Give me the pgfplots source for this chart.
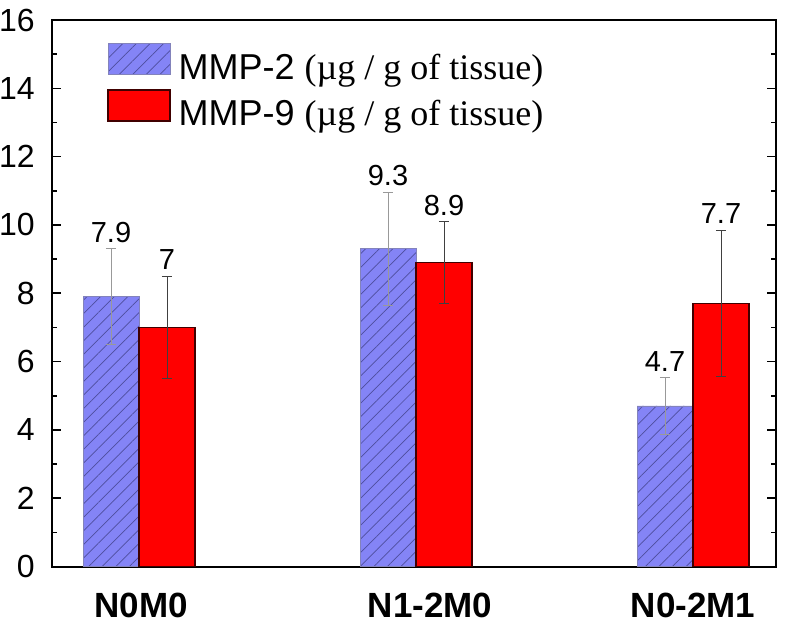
\documentclass[border=0pt]{standalone}
\usepackage{fontspec}
\setmainfont{Liberation Sans}
\newfontfamily\tnr{Liberation Serif}
\usepackage{pgfplots}
\pgfplotsset{compat=1.18}
\usetikzlibrary{patterns.meta,calc}
\definecolor{mmpblue}{HTML}{8484F6}
\definecolor{hatchblue}{HTML}{4E4E9E}
\definecolor{mmpred}{HTML}{FF0000}

\begin{document}
\begin{tikzpicture}
\begin{axis}[
  name=ax,
  scale only axis,
  width=362pt, height=273.25pt,
  xmin=0, xmax=724,
  ymin=0, ymax=16,
  ytick={0,2,...,16},
  minor y tick num=1,
  xtick={89,378,641},
  xticklabels={N0M0,N1-2M0,N0-2M1},
  xtick style={draw=none},
  x tick label style={font=\fontsize{17.5}{19}\selectfont\bfseries,
    anchor=north, inner sep=0pt, yshift=-8.5pt},
  y tick label style={font=\fontsize{16}{18}\selectfont,
    anchor=east, inner sep=0pt, xshift=-8.5pt},
  /pgf/number format/assume math mode=true,
  tick align=inside,
  ytick pos=both,
  major tick length=4.5pt,
  minor tick length=2.5pt,
  axis line style={line width=1pt},
  tick style={line width=0.8pt, black},
  ybar, bar width=28pt,
  legend style={draw=none, fill=none, inner sep=0pt,
    at={(axis description cs:0.076,0.958)}, anchor=north west,
    font=\fontsize{18}{20}\selectfont, row sep=3.5pt, column sep=4pt,
    nodes={inner sep=0pt}, legend cell align=left},
  legend image code/.code={\draw[#1] (0pt,-3.25pt) rectangle (31pt,12.25pt);},
]
\addplot[bar shift=-14pt, fill=mmpblue, draw=hatchblue!70, line width=0.4pt,
  postaction={pattern={Lines[angle=45,distance=4.8pt,line width=0.35pt]}, pattern color=hatchblue},
  error bars/.cd, y dir=both, y explicit,
  error bar style={gray!80, line width=0.45pt},
  error mark=|,
  error mark options={gray!80, mark size=2.6pt, line width=0.45pt}]
  coordinates {(87,7.9) +- (0,1.4) (364,9.3) +- (0,1.65) (641,4.7) +- (0,0.83)};
\addlegendentry{MMP-2 {\tnr(µg / g of tissue)}}
\addplot[bar shift=14pt, fill=mmpred, draw=black!75!red, line width=0.6pt,
  error bars/.cd, y dir=both, y explicit,
  error bar style={black!75, line width=0.45pt},
  error mark=|,
  error mark options={black!75, mark size=2.6pt, line width=0.45pt}]
  coordinates {(87,7.0) +- (0,1.5) (364,8.9) +- (0,1.19) (641,7.7) +- (0,2.15)};
\addlegendentry{MMP-9 {\tnr(µg / g of tissue)}}
\begin{scope}[every node/.style={font=\fontsize{14.5}{16}\selectfont, anchor=south, inner sep=0pt, yshift=3pt}]
\node at (axis cs:59,9.3) {7.9};
\node at (axis cs:115,8.5) {7};
\node at (axis cs:336,10.95) {9.3};
\node at (axis cs:392,10.09) {8.9};
\node at (axis cs:613,5.53) {4.7};
\node at (axis cs:669,9.85) {7.7};
\end{scope}
\end{axis}
\pgfresetboundingbox
\path ($(ax.south west)+(-26pt,-30.75pt)$) rectangle ($(ax.north east)+(5pt,10pt)$);
\end{tikzpicture}
\end{document}
